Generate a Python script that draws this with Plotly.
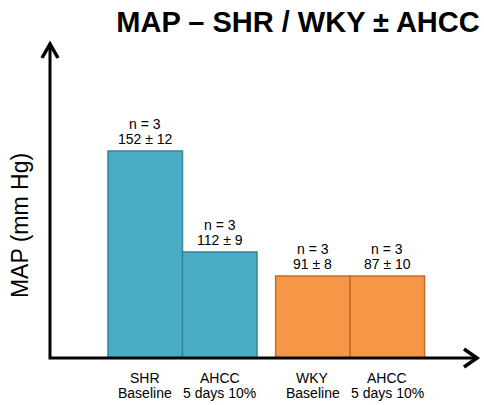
import plotly.graph_objects as go

# ---- data ----
groups = ["SHR", "SHR", "WKY", "WKY"]
line1_labels = ["SHR", "AHCC", "WKY", "AHCC"]
line2_labels = ["Baseline", "5 days 10%", "Baseline", "5 days 10%"]
n_values = [3, 3, 3, 3]
means = [152, 112, 91, 87]
sems = [12, 9, 8, 10]
# drawn bar heights (arbitrary drawing units, 0-314 axis)
bar_heights = [207, 106, 82, 82]
group_colors = {"SHR": "#4bacc6", "WKY": "#f79646"}
group_edges = {"SHR": "#35849a", "WKY": "#be6f2c"}

# x positions: adjacent bars inside a group, small gap between groups
gap = 0.25
xs = []
pos = 0.0
prev = None
for g in groups:
    if prev is not None and g != prev:
        pos += gap
    xs.append(pos)
    pos += 1
    prev = g

FONT = "Arial, Liberation Sans, sans-serif"

fig = go.Figure()
fig.add_trace(go.Bar(
    x=xs, y=bar_heights, width=1.0,
    marker=dict(color=[group_colors[g] for g in groups],
                line=dict(color=[group_edges[g] for g in groups], width=1.5)),
    hoverinfo="skip", showlegend=False,
))

annotations = []
for x, h, n, m, s, l1, l2 in zip(xs, bar_heights, n_values, means, sems, line1_labels, line2_labels):
    annotations.append(dict(x=x, y=h, xref="x", yref="y", text=f"{m} \u00b1 {s}",
                            showarrow=False, yanchor="bottom", yshift=2,
                            font=dict(family=FONT, size=14, color="black")))
    annotations.append(dict(x=x, y=h, xref="x", yref="y", text=f"n = {n}",
                            showarrow=False, yanchor="bottom", yshift=17,
                            font=dict(family=FONT, size=14, color="black")))
    annotations.append(dict(x=x, y=0, xref="x", yref="y", text=l1,
                            showarrow=False, yanchor="top", yshift=-10,
                            font=dict(family=FONT, size=14, color="black")))
    annotations.append(dict(x=x, y=0, xref="x", yref="y", text=l2,
                            showarrow=False, yanchor="top", yshift=-25,
                            font=dict(family=FONT, size=14, color="black")))

annotations.append(dict(x=0, y=0.42, xref="paper", yref="paper", text="MAP (mm Hg)",
                        textangle=-90, showarrow=False, xanchor="center", yanchor="middle",
                        xshift=-30, font=dict(family=FONT, size=23, color="black")))

W, H = 484, 405
L, R, T, B = 50, 6, 44, 47
pw, ph = W - L - R, H - T - B

def px(xp):
    return (xp - L) / pw

def py(yp):
    return (H - B - yp) / ph

shapes = [
    # axes lines
    dict(type="path", xref="paper", yref="paper",
         path=f"M {px(50)},{py(44)} L {px(50)},{py(358)} L {px(477)},{py(358)}",
         line=dict(color="black", width=3)),
    # up arrowhead
    dict(type="path", xref="paper", yref="paper",
         path=f"M {px(42)},{py(58)} L {px(50)},{py(44)} L {px(58)},{py(58)}",
         line=dict(color="black", width=3.5)),
    # right arrowhead
    dict(type="path", xref="paper", yref="paper",
         path=f"M {px(464)},{py(349)} L {px(477)},{py(358)} L {px(464)},{py(367)}",
         line=dict(color="black", width=3.5)),
]

# x range so bar 0 left edge sits at pixel 108 with unit width 74.5 px
unit = 74.5
x0 = -0.5 - (108 - L) / unit
x1 = x0 + pw / unit

fig.update_layout(
    width=W, height=H,
    margin=dict(l=L, r=R, t=T, b=B, pad=0),
    paper_bgcolor="white", plot_bgcolor="white",
    title=dict(text="<b>MAP \u2013 SHR / WKY \u00b1 AHCC</b>", x=298 / W, xanchor="center",
               y=1 - 22 / H, yanchor="middle", xref="container",
               font=dict(family=FONT, size=29, color="black")),
    xaxis=dict(range=[x0, x1], visible=False, fixedrange=True),
    yaxis=dict(range=[0, ph], visible=False, fixedrange=True),
    annotations=annotations, shapes=shapes,
    bargap=0, showlegend=False,
)

fig.write_html("out.html", config={"staticPlot": True},
               post_script="document.body.style.margin='0';document.body.style.padding='0';")
